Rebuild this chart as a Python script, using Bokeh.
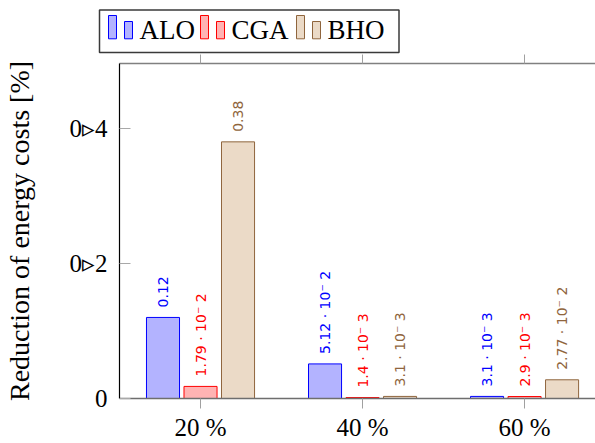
import math

from bokeh.core.properties import value
from bokeh.embed import file_html
from bokeh.layouts import column
from bokeh.models import ColumnDataSource, FixedTicker, LabelSet, LinearAxis, Range1d
from bokeh.plotting import figure
from bokeh.resources import INLINE

# ---- data -------------------------------------------------------------
categories = ["20 %", "40 %", "60 %"]
alo = [0.12, 5.12e-2, 3.1e-3]
cga = [1.79e-2, 1.4e-3, 2.9e-3]
bho = [0.38, 3.1e-3, 2.77e-2]
series_names = ["ALO", "CGA", "BHO"]
y_ticks = [0, 0.2, 0.4]
y_tick_labels = ["0", "0▹2", "0▹4"]

# ---- styling ----------------------------------------------------------
SERIF = "Liberation Serif"
fills = ["#b3b3ff", "#ffb3b3", "#ebdac7"]
edges = ["#0000ff", "#ff0000", "#8f653d"]
offsets = [-0.2315, 0.0, 0.2315]
bar_width = 0.204
positions = list(range(1, len(categories) + 1))


def fmt(v):
    """Value label: plain for large values, mantissa and power of ten otherwise."""
    if v >= 0.1:
        return f"{v:.2f}"
    e = math.floor(math.log10(v))
    m = round(v / 10 ** e, 3)
    return f"{m:.3g} · 10⁻ {-e}"


# ---- main chart -------------------------------------------------------
p = figure(
    frame_width=477, frame_height=335,
    x_range=Range1d(0.5, 3.444), y_range=Range1d(0, 0.496),
    output_backend="svg", toolbar_location=None,
    min_border_left=118, min_border_right=0,
    min_border_top=9, min_border_bottom=45,
)
p.outline_line_color = None
p.xgrid.visible = False
p.ygrid.visible = False
p.background_fill_color = "white"
p.border_fill_color = "white"

for name, vals, fc, ec, off in zip(series_names, [alo, cga, bho], fills, edges, offsets):
    xs = [pos + off for pos in positions]
    src = ColumnDataSource(dict(x=xs, top=vals, label=[fmt(v) for v in vals]))
    p.vbar(x="x", top="top", bottom=0, width=bar_width, source=src,
           fill_color=fc, line_color=ec, line_width=1)
    p.add_layout(LabelSet(
        x="x", y="top", text="label", source=src,
        angle=math.pi / 2, text_align="left", text_baseline="middle",
        y_offset=10, text_font=value("DejaVu Sans"), text_font_size="14px",
        text_color=ec,
    ))

# bottom axis
xa = p.xaxis[0]
xa.ticker = FixedTicker(ticks=positions)
xa.major_label_overrides = {pos: cat for pos, cat in zip(positions, categories)}
xa.major_label_text_font = SERIF
xa.major_label_text_font_size = "25px"
xa.major_label_text_color = "black"
xa.major_label_standoff = 5
xa.axis_line_color = "#6e6e6e"
xa.axis_line_width = 1.6
xa.major_tick_line_color = "#a0a0a0"
xa.major_tick_out = 10
xa.major_tick_in = 0
xa.minor_tick_line_color = None

# left axis
ya = p.yaxis[0]
ya.ticker = FixedTicker(ticks=y_ticks)
ya.major_label_overrides = {t: s for t, s in zip(y_ticks, y_tick_labels)}
ya.major_label_text_font = SERIF
ya.major_label_text_font_size = "25px"
ya.major_label_text_color = "black"
ya.major_label_standoff = 12
ya.axis_line_color = "black"
ya.axis_line_width = 1.2
ya.major_tick_line_color = "#a8a8a8"
ya.major_tick_in = 11
ya.major_tick_out = 0
ya.minor_tick_line_color = None
ya.axis_label = "Reduction of energy costs [%]"
ya.axis_label_text_font = SERIF
ya.axis_label_text_font_size = "28px"
ya.axis_label_text_font_style = "normal"
ya.axis_label_text_color = "black"
ya.axis_label_standoff = 32

# top axis: line and outward ticks only
top = LinearAxis(ticker=FixedTicker(ticks=positions))
top.major_label_overrides = {pos: "" for pos in positions}
top.major_label_standoff = 0
top.axis_line_color = "#808080"
top.axis_line_width = 1.4
top.major_tick_line_color = "#a0a0a0"
top.major_tick_out = 9
top.major_tick_in = 0
top.minor_tick_line_color = None
p.add_layout(top, "above")

# ---- legend strip -----------------------------------------------------
leg = figure(
    width=595, height=54,
    x_range=Range1d(0, 595), y_range=Range1d(54, 0),
    output_backend="svg", toolbar_location=None,
    x_axis_type=None, y_axis_type=None,
    min_border=0, frame_align=False,
)
leg.outline_line_color = None
leg.xgrid.visible = False
leg.ygrid.visible = False
leg.border_fill_color = "white"

# frame of the legend box
leg.quad(left=[99], right=[398.5], top=[9.5], bottom=[52], fill_color="white",
         line_color="#3a3a3a", line_width=1.5)

entry_x = [108, 200, 296]
for name, fc, ec, x0 in zip(series_names, fills, edges, entry_x):
    leg.quad(left=[x0, x0 + 16], right=[x0 + 8, x0 + 24],
             top=[15, 21], bottom=[38.3, 38.3],
             fill_color=fc, line_color=ec, line_width=1)
    leg.text(x=[x0 + 31], y=[29], text=[name],
             text_font=value(SERIF), text_font_size="27px",
             text_baseline="alphabetic", text_align="left", text_color="black")

layout = column(leg, p, spacing=0)

with open("out.html", "w") as f:
    f.write(file_html(layout, INLINE))
